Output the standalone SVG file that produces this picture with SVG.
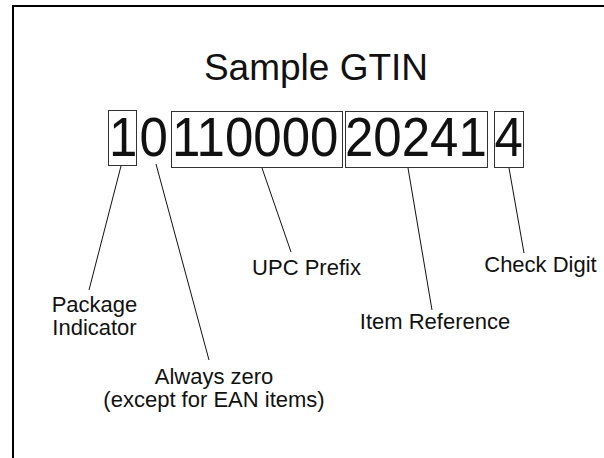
<svg xmlns="http://www.w3.org/2000/svg" width="604" height="458" viewBox="0 0 604 458">
<style>
text{font-family:"Liberation Sans",Arial,sans-serif;fill:#111}
.title{font-size:37px;text-anchor:middle}
.dig{font-size:51px}
.lbl{font-size:22px;text-anchor:middle}
.box{fill:none;stroke:#333;stroke-width:1}
.con{stroke:#111;stroke-width:1;fill:none}
</style>
<rect x="0" y="0" width="604" height="458" fill="#fff"/>
<rect x="13" y="6" width="640" height="500" fill="none" stroke="#000" stroke-width="2"/>
<g id="title"><text class="title" x="316" y="80">Sample GTIN</text></g>
<g id="package-indicator">
<rect class="box" x="108.5" y="110.5" width="28" height="55"/>
<text class="dig" transform="translate(109,155.5) scale(1,1.08)">1</text>
<text class="lbl" x="94.5" y="312">Package</text>
<text class="lbl" x="94.5" y="335">Indicator</text>
</g>
<g id="always-zero">
<text class="dig" transform="translate(139.5,155.5) scale(1,1.08)">0</text>
<text class="lbl" x="214" y="384">Always zero</text>
<text class="lbl" x="214" y="407">(except for EAN items)</text>
</g>
<g id="upc-prefix">
<rect class="box" x="171.5" y="111.5" width="171" height="56"/>
<text class="dig" transform="translate(172,155.5) scale(1,1.08)">110000</text>
<text class="lbl" x="306.5" y="275">UPC Prefix</text>
</g>
<g id="item-reference">
<rect class="box" x="345.5" y="111.5" width="142" height="56"/>
<text class="dig" transform="translate(345,155.5) scale(1,1.08)">20241</text>
<text class="lbl" x="435" y="329">Item Reference</text>
</g>
<g id="check-digit">
<rect class="box" x="494.5" y="111.5" width="29" height="56"/>
<text class="dig" transform="translate(494.5,155.5) scale(1,1.08)">4</text>
<text class="lbl" x="540.5" y="272">Check Digit</text>
</g>
<g id="connectors">
<line class="con" x1="121" y1="166" x2="89" y2="290"/>
<line class="con" x1="156" y1="164" x2="209" y2="360"/>
<line class="con" x1="262" y1="168" x2="291" y2="252"/>
<line class="con" x1="408" y1="168" x2="432" y2="310"/>
<line class="con" x1="509" y1="168" x2="524" y2="253"/>
</g>
</svg>
